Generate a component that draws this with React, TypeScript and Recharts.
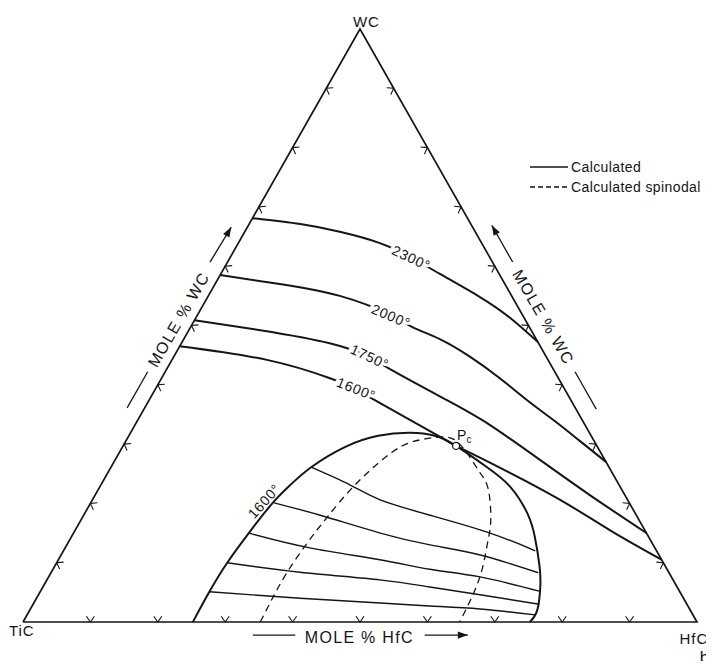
import React from 'react';
import { ScatterChart, Scatter, XAxis, YAxis, ReferenceLine, ReferenceDot, Legend } from 'recharts';

// Every point is a composition [mol % HfC, mol % WC]; TiC is the remainder.
const isotherm2300 = [[0, 68.1], [7.6, 67.1], [14.1, 65.8], [21.0, 63.9], [26.6, 61.6], [32.5, 58.7], [40.4, 54.8], [46.6, 51.3], [52.8, 47.2]];
const isotherm2000 = [[0, 58.5], [9.6, 57.0], [19.5, 55.0], [28.6, 51.8], [33.0, 49.7], [38.0, 47.7], [44.0, 44.7], [50.2, 41.1], [56.1, 37.4], [61.6, 34.1], [67.4, 30.5], [73.0, 27.0]];
const isotherm1750 = [[0, 50.9], [10.6, 49.2], [22.0, 47.0], [29.1, 44.7], [32.8, 42.8], [44.2, 37.4], [52.7, 33.2], [63.1, 27.3], [73.4, 21.4], [85.0, 15.0]];
const isotherm1600 = [[0, 46.5], [14.1, 44.2], [25.0, 41.1], [29.2, 39.5], [33.5, 37.4], [46.3, 31.2], [49.4, 29.7], [57.8, 26.0], [69.4, 20.6], [79.3, 15.5], [89.5, 10.5]];

// 1600° miscibility gap
const binodal = [
  [25.2, 0], [25.1, 5.1], [25.3, 10.0], [26.0, 15.0], [27.0, 20.1], [28.1, 23.1], [29.7, 26.1], [33.0, 29.5],
  [37.0, 31.4], [41.5, 31.9], [45.4, 31.4], [49.4, 29.7], [55.8, 26.1], [60.9, 22.8], [65.6, 18.4], [68.8, 14.3],
  [72.0, 9.3], [73.8, 5.9], [75.3, 2.0], [75.2, 0],
];
const spinodal = [
  [35.2, 0], [35.0, 4.2], [35.0, 8.4], [35.5, 13.3], [36.3, 17.7], [37.7, 23.1], [40.5, 28.7], [43.5, 30.7],
  [46.7, 31.2], [49.2, 30.4], [52.4, 27.8], [55.3, 25.1], [57.9, 22.3], [60.8, 17.2], [62.1, 13.8], [63.7, 8.8],
  [64.5, 4.2], [64.8, 0],
];
const tieLine1 = [[29.7, 26.1], [37.0, 23.1], [42.7, 20.6], [51.4, 18.0], [61.8, 15.0], [70.0, 12.0]];
const tieLine2 = [[27.2, 20.1], [35.1, 18.0], [45.5, 15.0], [53.9, 13.0], [62.2, 11.3], [72.3, 8.3]];
const tieLine3 = [[26.0, 15.0], [36.3, 12.5], [47.7, 10.5], [55.9, 8.9], [64.0, 7.6], [74.0, 5.2]];
const tieLine4 = [[25.3, 10.0], [36.9, 8.4], [49.4, 7.1], [57.4, 5.9], [65.5, 4.6], [75.1, 3.0]];
const tieLine5 = [[25.1, 5.1], [39.1, 4.0], [51.4, 3.2], [59.0, 2.7], [66.7, 2.2], [75.4, 1.2]];
const tieLines = [tieLine1, tieLine2, tieLine3, tieLine4, tieLine5];

const criticalPoint = [49.4, 29.7];
const gridSteps = [10, 20, 30, 40, 50, 60, 70, 80, 90];
const corners = [[0, 0], [100, 0], [0, 100], [0, 0]];

const isothermLabels = [
  { text: '2300°', at: [26.9, 61.4], angle: 25, halo: true },
  { text: '2000°', at: [28.8, 51.6], angle: 23, halo: true },
  { text: '1750°', at: [29.1, 44.7], angle: 25, halo: true },
  { text: '1600°', at: [29.8, 39.3], angle: 22, halo: true },
  { text: '1600°', at: [25.6, 20.4], angle: -48, halo: false },
];

const vertexLabels = [
  { text: 'WC', at: [0.3, 101.3], size: 15 },
  { text: 'TiC', at: [0.5, -1.35], size: 15 },
  { text: 'HfC', at: [100.9, -2.7], size: 15 },
  { text: 'b', at: [104.2, -6.0], size: 17 },
];

const axisTitles = [
  { text: 'MOLE % WC', at: [-2.4, 51.0], angle: -60 },
  { text: 'MOLE % WC', at: [51.5, 51.4], angle: 60 },
  { text: 'MOLE % HfC', at: [51.2, -2.6], angle: 0 },
];

const titleRules = [
  { from: [-2.6, 36.1], to: [-2.6, 42.2] },
  { from: [-2.6, 60.7], to: [-2.4, 66.6], head: -60 },
  { from: [42.3, 60.7], to: [36.1, 66.9], head: -120 },
  { from: [60.8, 42.2], to: [67.1, 35.9] },
  { from: [35.2, -2.2], to: [41.5, -2.2] },
  { from: [60.7, -2.2], to: [67.1, -2.2], head: 0 },
];

const legendItems = [
  { label: 'Calculated', dash: undefined },
  { label: 'Calculated spinodal', dash: '5 3' },
];

const INK = '#151515';
const FONT = '"Liberation Sans", Arial, sans-serif';

// ternary composition -> cartesian (x along the base, y = WC fraction)
const toPoint = ([hfc, wc]: number[]) => ({ x: hfc + wc / 2, y: wc });
const toPoints = (pts: number[][]) => pts.map(toPoint);

const noDot = () => <g />;

const chevron = (angle: number) => (p: any) => (
  <path
    d="M5.7,-4 L0,0 L5.7,4"
    transform={`translate(${p.cx},${p.cy}) rotate(${angle})`}
    fill="none"
    stroke={INK}
    strokeWidth={1.1}
  />
);

const isothermText = (p: any) => {
  const d = p.payload ?? p;
  return (
    <text
      x={p.cx}
      y={p.cy}
      transform={`rotate(${d.angle} ${p.cx} ${p.cy})`}
      textAnchor="middle"
      dominantBaseline="central"
      fontFamily={FONT}
      fontSize={14}
      letterSpacing={0.8}
      fill={INK}
      stroke={d.halo ? '#fff' : 'none'}
      strokeWidth={d.halo ? 6 : 0}
      style={{ paintOrder: 'stroke' }}
    >
      {d.text}
    </text>
  );
};

const criticalMark = (p: any) => (
  <g>
    <circle cx={p.cx} cy={p.cy} r={3.5} fill="#fff" stroke={INK} strokeWidth={1.3} />
    <text x={p.cx + 1} y={p.cy - 6} fontFamily={FONT} fontSize={14} fill={INK}>
      P
      <tspan fontSize={10} dy={3}>c</tspan>
    </text>
  </g>
);

const textAt = (text: string, angle: number, size: number, spacing: number) => (p: any) => (
  <text
    x={p.cx}
    y={p.cy}
    transform={`rotate(${angle} ${p.cx} ${p.cy})`}
    textAnchor="middle"
    dominantBaseline="central"
    fontFamily={FONT}
    fontSize={size}
    letterSpacing={spacing}
    fill={INK}
  >
    {text}
  </text>
);

const arrowHead = (angle: number) => (p: any) => (
  <path d="M0,0 L-10,-3.6 L-10,3.6 Z" transform={`translate(${p.cx},${p.cy}) rotate(${angle})`} fill={INK} />
);

const renderLegend = () => (
  <div style={{ fontFamily: FONT, fontSize: 14, color: INK, lineHeight: '20px' }}>
    {legendItems.map((item) => (
      <div key={item.label} style={{ display: 'flex', alignItems: 'center' }}>
        <svg width={38} height={10} style={{ display: 'block' }}>
          <line x1={0} y1={5} x2={38} y2={5} stroke={INK} strokeWidth={1.3} strokeDasharray={item.dash} />
        </svg>
        <span style={{ marginLeft: 3, letterSpacing: 0.4 }}>{item.label}</span>
      </div>
    ))}
  </div>
);

export default function App() {
  const curve = { stroke: INK, strokeWidth: 2, fill: 'none' };
  return (
    // negative bottom margin cancels the body margin so the taller chart doesn't scroll
    <div style={{ marginBottom: -8 }}>
      <ScatterChart width={706} height={661} margin={{ top: 21, right: 17, bottom: 47, left: 15 }}>
        <XAxis type="number" dataKey="x" domain={[0, 100]} hide />
        <YAxis type="number" dataKey="y" domain={[0, 100]} hide />

        <Scatter data={toPoints(corners)} line={{ stroke: INK, strokeWidth: 1.7 }} shape={noDot} isAnimationActive={false} />
        <Scatter data={toPoints(gridSteps.map((h) => [h, 0]))} shape={chevron(-90)} isAnimationActive={false} />
        <Scatter data={toPoints(gridSteps.map((w) => [0, w]))} shape={chevron(30)} isAnimationActive={false} />
        <Scatter data={toPoints(gridSteps.map((w) => [100 - w, w]))} shape={chevron(150)} isAnimationActive={false} />

        {[isotherm2300, isotherm2000, isotherm1750, isotherm1600].map((iso, i) => (
          <Scatter key={`iso${i}`} data={toPoints(iso)} line={curve} lineJointType="natural" shape={noDot} isAnimationActive={false} />
        ))}
        {tieLines.map((tie, i) => (
          <Scatter key={`tie${i}`} data={toPoints(tie)} line={{ stroke: INK, strokeWidth: 1.4, fill: 'none' }} lineJointType="natural" shape={noDot} isAnimationActive={false} />
        ))}
        <Scatter data={toPoints(binodal)} line={curve} lineJointType="natural" shape={noDot} isAnimationActive={false} />
        <Scatter
          data={toPoints(spinodal)}
          line={{ stroke: INK, strokeWidth: 1.3, strokeDasharray: '7 5', fill: 'none' }}
          lineJointType="natural"
          shape={noDot}
          isAnimationActive={false}
        />

        <Scatter
          data={isothermLabels.map((l) => ({ ...toPoint(l.at), text: l.text, angle: l.angle, halo: l.halo }))}
          shape={isothermText}
          isAnimationActive={false}
        />
        <Scatter data={[toPoint(criticalPoint)]} shape={criticalMark} isAnimationActive={false} />

        {titleRules.map((r, i) => (
          <ReferenceLine
            key={`rule${i}`}
            segment={[toPoint(r.from), toPoint(r.to)]}
            stroke={INK}
            strokeWidth={1.3}
            ifOverflow="visible"
          />
        ))}
        {titleRules
          .filter((r) => r.head !== undefined)
          .map((r, i) => {
            const p = toPoint(r.to);
            return <ReferenceDot key={`head${i}`} x={p.x} y={p.y} r={0} ifOverflow="visible" shape={arrowHead(r.head as number)} />;
          })}
        {axisTitles.map((t, i) => {
          const p = toPoint(t.at);
          return <ReferenceDot key={`title${i}`} x={p.x} y={p.y} r={0} ifOverflow="visible" shape={textAt(t.text, t.angle, 16, 1.3)} />;
        })}
        {vertexLabels.map((v, i) => {
          const p = toPoint(v.at);
          return <ReferenceDot key={`vx${i}`} x={p.x} y={p.y} r={0} ifOverflow="visible" shape={textAt(v.text, 0, v.size, 1)} />;
        })}

        <Legend
          layout="horizontal"
          verticalAlign="middle"
          align="center"
          content={renderLegend}
          wrapperStyle={{ left: 522, top: 149, width: 180 }}
        />
      </ScatterChart>
    </div>
  );
}
